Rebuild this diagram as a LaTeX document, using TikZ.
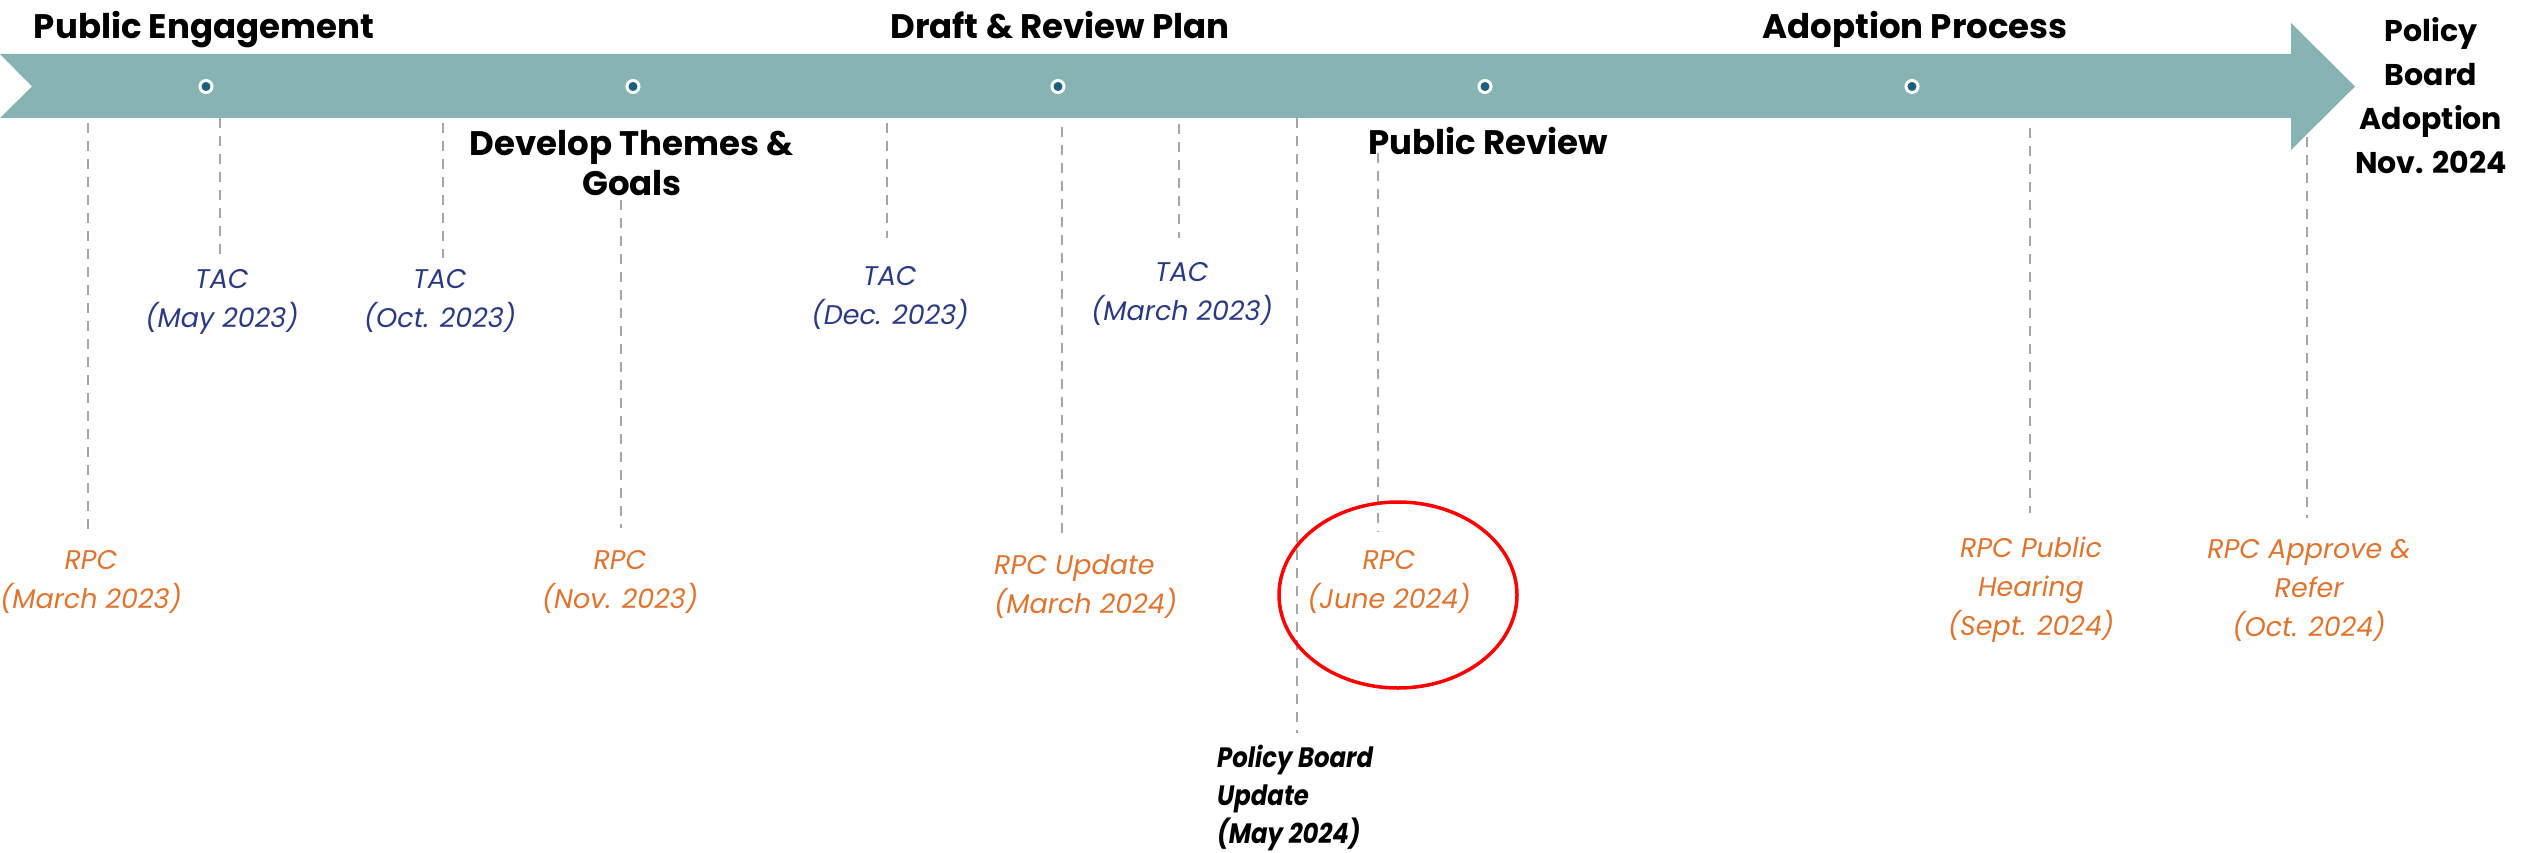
\documentclass[tikz,border=0pt]{standalone}
\usepackage{fontspec}
\setmainfont{Poppins}
\newfontfamily\pbufont{Poppins}[FakeStretch=0.87]
\definecolor{bandc}{HTML}{88B3B3}
\definecolor{dotc}{HTML}{1B5E7E}
\definecolor{tacc}{HTML}{2B3A80}
\definecolor{rpcc}{HTML}{DD7430}
\definecolor{leadc}{HTML}{A6A6A6}
\tikzset{
  dotnode/.style={circle, fill=dotc, draw=white, line width=3pt, minimum size=12pt, inner sep=0pt},
  heading/.style={font=\fontsize{34}{40}\selectfont\bfseries, inner sep=0pt, align=center, text=black},
  tac/.style={font=\fontsize{27}{39}\selectfont\itshape, text=tacc, inner sep=0pt, align=center},
  rpc/.style={font=\fontsize{27}{39}\selectfont\itshape, text=rpcc, inner sep=0pt, align=center},
  pbu/.style={font=\pbufont\fontsize{28}{38}\selectfont\bfseries\itshape, text=black, inner sep=0pt, align=left},
  leader/.style={draw=leadc, line width=2.5pt, dash pattern=on 10pt off 8pt}
}
\begin{document}
\begin{tikzpicture}[x=1pt,y=-1pt]
\useasboundingbox (0,0) rectangle (2526,853);
% band arrow
\fill[bandc] (0,54) -- (2291,54) -- (2291,23) -- (2355,86.5) -- (2291,150) -- (2291,118) -- (0,118) -- (32,86.5) -- cycle;
% dots
\node[dotnode] (d1) at (206,86.5) {};
\node[dotnode] (d2) at (633,86.5) {};
\node[dotnode] (d3) at (1058,86.5) {};
\node[dotnode] (d4) at (1485,86.5) {};
\node[dotnode] (d5) at (1912,86.5) {};
% headings
\node[heading, anchor=base] (h1) at (204,39) {Public Engagement};
\node[heading, anchor=base] (h2) at (1060,39) {Draft \& Review Plan};
\node[heading, anchor=base] (h3) at (1915,39) {Adoption Process};
\node[heading] (h4) at (632,163) {Develop Themes \&\\Goals};
\node[heading, anchor=base] (h5) at (1488,155) {Public Review};
\node[heading, font=\fontsize{30}{44}\selectfont\bfseries] (h6) at (2431,96) {Policy\\Board\\Adoption\\Nov. 2024};
% leader lines
\coordinate (a1) at (88,123);   \coordinate (b1) at (88,535);
\coordinate (a2) at (220,118);  \coordinate (b2) at (220,258);
\coordinate (a3) at (443,123);  \coordinate (b3) at (443,258);
\coordinate (a4) at (621,200);  \coordinate (b4) at (621,528);
\coordinate (a5) at (887,123);  \coordinate (b5) at (887,238);
\coordinate (a6) at (1062,127); \coordinate (b6) at (1062,538);
\coordinate (a7) at (1179,124); \coordinate (b7) at (1179,238);
\coordinate (a8) at (1297,118); \coordinate (b8) at (1297,733);
\coordinate (a9) at (1378,153); \coordinate (b9) at (1378,532);
\coordinate (a10) at (2030,128); \coordinate (b10) at (2030,513);
\coordinate (a11) at (2307,137); \coordinate (b11) at (2307,518);
\foreach \i in {1,...,11} {\draw[leader] (a\i) -- (b\i);}
% labels
\node[rpc] (l1) at (91,582) {RPC\\(March 2023)};
\node[tac] (l2) at (222,302) {TAC\\(May 2023)};
\node[tac] (l3) at (440,301) {TAC\\(Oct. 2023)};
\node[rpc] (l4) at (620,582) {RPC\\(Nov. 2023)};
\node[tac] (l5) at (890,298) {TAC\\(Dec. 2023)};
\node[rpc, align=left, anchor=west] (l6) at (994,587) {RPC Update\\(March 2024)};
\node[tac] (l7) at (1182,294) {TAC\\(March 2023)};
\node[pbu, anchor=west] (l8) at (1217,798) {Policy Board\\Update\\(May 2024)};
\node[rpc] (l9) at (1389,582) {RPC\\(June 2024)};
\node[rpc] (l10) at (2031,590) {RPC Public\\Hearing\\(Sept. 2024)};
\node[rpc] (l11) at (2309,590) {RPC Approve \&\\Refer\\(Oct. 2024)};
% highlight
\draw[red, line width=3.5pt] (1398,595) ellipse [x radius=119, y radius=93];
\end{tikzpicture}
\end{document}
